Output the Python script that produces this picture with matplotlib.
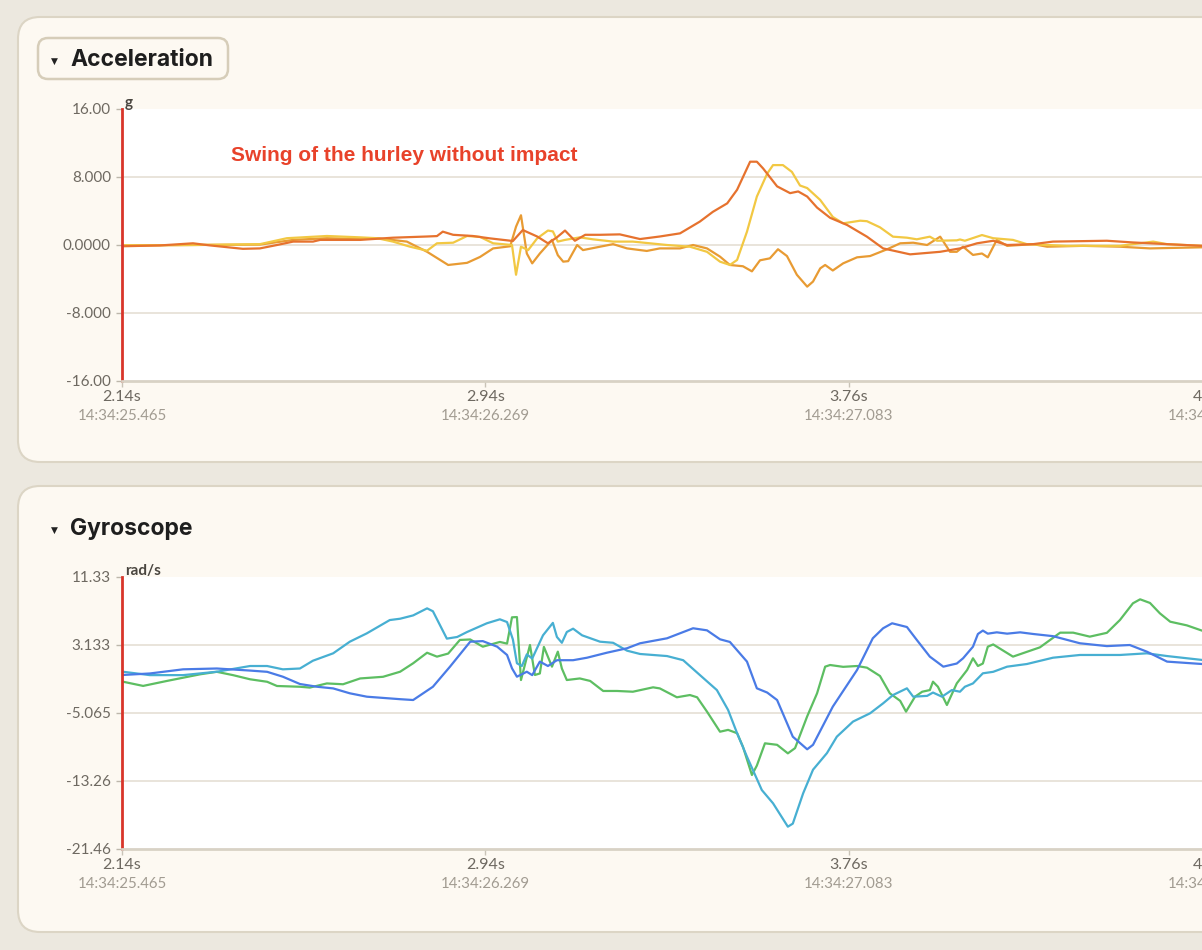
import matplotlib.pyplot as plt
from matplotlib.patches import FancyBboxPatch

# --- data ---
# acceleration [g]
acc_red_t = [2.140, 2.225, 2.298, 2.336, 2.409, 2.447, 2.485, 2.521, 2.565, 2.581, 2.670, 2.743,
             2.819, 2.841, 2.854, 2.877, 2.921, 2.959, 3.010, 3.032, 3.064, 3.088, 3.108, 3.126,
             3.148, 3.171, 3.204, 3.248, 3.293, 3.337, 3.382, 3.426, 3.455, 3.487, 3.509, 3.538,
             3.553, 3.567, 3.598, 3.627, 3.645, 3.665, 3.687, 3.716, 3.754, 3.798, 3.834, 3.894,
             3.961, 4.005, 4.043, 4.079, 4.110, 4.168, 4.212, 4.332, 4.390, 4.466, 4.544]
acc_red_v = [-0.15, -0.05, 0.2, -0.05, -0.45, -0.4, 0.0, 0.4, 0.4, 0.6, 0.6, 0.86,
             1.0, 1.05, 1.57, 1.2, 1.06, 0.78, 0.47, 1.76, 1.0, 0.2, 0.9, 1.7,
             0.5, 1.2, 1.2, 1.25, 0.7, 1.0, 1.37, 2.75, 3.9, 4.9, 6.5, 9.8,
             9.8, 9.0, 6.9, 6.1, 6.3, 5.7, 4.4, 3.2, 2.35, 0.98, -0.4, -1.1,
             -0.8, -0.4, 0.2, 0.5, 0.0, 0.1, 0.4, 0.5, 0.3, 0.1, -0.1]

acc_yel_t = [2.140, 2.298, 2.447, 2.507, 2.596, 2.670, 2.708, 2.743, 2.781, 2.819, 2.841, 2.877,
             2.908, 2.937, 2.966, 3.008, 3.017, 3.028, 3.044, 3.064, 3.088, 3.099, 3.110, 3.126,
             3.159, 3.188, 3.233, 3.277, 3.353, 3.404, 3.442, 3.471, 3.493, 3.509, 3.531, 3.553,
             3.576, 3.589, 3.611, 3.631, 3.649, 3.665, 3.694, 3.722, 3.745, 3.783, 3.798, 3.827,
             3.856, 3.887, 3.909, 3.938, 3.954, 3.998, 4.005, 4.016, 4.054, 4.079, 4.123, 4.154,
             4.243, 4.361, 4.435, 4.466, 4.544]
acc_yel_v = [-0.05, 0.0, 0.1, 0.8, 1.06, 0.9, 0.8, 0.4, -0.2, -0.67, 0.2, 0.27,
             1.06, 0.95, 0.2, 0.0, -3.5, -0.2, -0.6, 0.78, 1.7, 1.6, 0.4, 0.6,
             0.9, 0.67, 0.4, 0.4, 0.0, -0.2, -0.8, -1.96, -2.35, -1.76, 1.57, 5.7,
             8.4, 9.4, 9.4, 8.6, 7.0, 6.7, 5.3, 3.3, 2.55, 2.86, 2.8, 2.08,
             0.98, 0.86, 0.67, 0.98, 0.5, 0.55, 0.65, 0.5, 1.17, 0.8, 0.6, 0.1,
             -0.1, -0.1, 0.4, 0.1, -0.1]

acc_org_t = [2.140, 2.298, 2.447, 2.521, 2.596, 2.670, 2.708, 2.774, 2.819, 2.866, 2.908, 2.937,
             2.966, 3.004, 3.017, 3.028, 3.041, 3.053, 3.070, 3.097, 3.110, 3.122, 3.133, 3.153,
             3.166, 3.204, 3.233, 3.264, 3.308, 3.337, 3.382, 3.411, 3.442, 3.471, 3.493, 3.522,
             3.542, 3.560, 3.582, 3.600, 3.620, 3.642, 3.665, 3.678, 3.694, 3.705, 3.722, 3.745,
             3.776, 3.805, 3.843, 3.872, 3.901, 3.932, 3.961, 3.983, 3.998, 4.012, 4.034, 4.054,
             4.067, 4.087, 4.110, 4.168, 4.199, 4.279, 4.361, 4.428, 4.544]
acc_org_v = [-0.05, 0.0, 0.05, 0.6, 0.8, 0.7, 0.8, 0.4, -0.8, -2.35, -2.1, -1.4,
             -0.4, -0.15, 2.16, 3.5, -1.0, -2.16, -1.0, 0.6, -1.2, -1.96, -1.9, 0.0,
             -0.6, -0.2, 0.1, -0.4, -0.7, -0.4, -0.4, 0.0, -0.4, -1.37, -2.35, -2.5,
             -3.1, -1.8, -1.57, -0.5, -1.3, -3.5, -4.9, -4.3, -2.75, -2.35, -3.0, -2.16,
             -1.45, -1.3, -0.5, 0.2, 0.27, 0.0, 0.98, -0.8, -0.8, -0.2, -1.17, -1.0,
             -1.45, 0.6, -0.1, 0.1, -0.2, -0.1, -0.2, -0.4, -0.27]

# gyroscope [rad/s]
gyr_cyan_t = [2.142, 2.202, 2.276, 2.351, 2.425, 2.463, 2.498, 2.536, 2.565, 2.610, 2.647, 2.685,
              2.736, 2.759, 2.788, 2.819, 2.832, 2.863, 2.886, 2.908, 2.952, 2.981, 2.997, 3.010,
              3.019, 3.030, 3.041, 3.053, 3.077, 3.099, 3.108, 3.119, 3.130, 3.144, 3.164, 3.204,
              3.233, 3.264, 3.293, 3.353, 3.389, 3.426, 3.464, 3.489, 3.509, 3.531, 3.564, 3.589,
              3.622, 3.633, 3.656, 3.678, 3.709, 3.731, 3.767, 3.805, 3.834, 3.856, 3.887, 3.901,
              3.932, 3.945, 3.965, 3.987, 4.005, 4.016, 4.034, 4.056, 4.079, 4.110, 4.154, 4.212,
              4.272, 4.361, 4.421, 4.466, 4.544]
gyr_cyan_v = [-0.09, -0.5, -0.5, -0.09, 0.6, 0.6, 0.2, 0.3, 1.24, 2.13, 3.53, 4.54,
              6.14, 6.3, 6.7, 7.55, 7.2, 3.9, 4.1, 4.7, 5.75, 6.23, 5.9, 3.8,
              0.93, 0.6, 2.0, 1.5, 4.3, 5.8, 4.1, 3.4, 4.7, 5.1, 4.3, 3.53,
              3.4, 2.45, 2.05, 1.8, 1.3, -0.48, -2.3, -4.7, -7.5, -10.33, -14.35, -15.95,
              -18.77, -18.4, -14.75, -11.9, -9.9, -7.92, -6.1, -5.1, -3.9, -2.9, -2.09, -3.1,
              -3.0, -2.6, -3.1, -2.3, -2.5, -1.9, -1.5, -0.28, -0.1, 0.52, 0.84, 1.6,
              1.93, 1.93, 2.13, 1.8, 1.33]

gyr_blue_t = [2.142, 2.202, 2.276, 2.351, 2.425, 2.463, 2.498, 2.536, 2.574, 2.610, 2.647, 2.685,
              2.759, 2.788, 2.832, 2.870, 2.915, 2.943, 2.975, 2.997, 3.008, 3.019, 3.041, 3.053,
              3.070, 3.088, 3.108, 3.144, 3.175, 3.219, 3.264, 3.293, 3.353, 3.411, 3.442, 3.471,
              3.493, 3.531, 3.553, 3.576, 3.598, 3.633, 3.665, 3.678, 3.722, 3.776, 3.811, 3.834,
              3.854, 3.887, 3.909, 3.938, 3.968, 3.998, 4.012, 4.034, 4.045, 4.056, 4.067, 4.087,
              4.110, 4.139, 4.168, 4.212, 4.272, 4.332, 4.383, 4.421, 4.466, 4.544]
gyr_blue_v = [-0.48, -0.3, 0.2, 0.3, 0.05, -0.1, -0.69, -1.57, -1.9, -2.1, -2.69, -3.1,
              -3.4, -3.5, -1.9, 0.52, 3.53, 3.6, 2.93, 1.93, 0.32, -0.69, -0.09, -0.5,
              1.13, 0.6, 1.3, 1.3, 1.6, 2.2, 2.74, 3.34, 3.94, 5.15, 4.9, 3.82,
              3.5, 1.13, -2.09, -2.6, -3.5, -7.92, -9.44, -8.9, -4.3, 0.12, 3.94, 5.15,
              5.75, 5.3, 3.74, 1.73, 0.52, 0.9, 1.53, 2.93, 4.46, 4.87, 4.5, 4.66,
              4.5, 4.66, 4.46, 4.2, 3.34, 3.0, 3.13, 2.33, 1.13, 0.84]

gyr_green_t = [2.142, 2.187, 2.240, 2.314, 2.351, 2.387, 2.425, 2.463, 2.485, 2.536, 2.558, 2.596,
               2.632, 2.670, 2.721, 2.759, 2.788, 2.819, 2.841, 2.866, 2.892, 2.915, 2.943, 2.981,
               2.997, 3.008, 3.019, 3.028, 3.037, 3.048, 3.059, 3.070, 3.079, 3.097, 3.110, 3.119,
               3.130, 3.159, 3.182, 3.211, 3.242, 3.277, 3.322, 3.337, 3.375, 3.404, 3.420, 3.442,
               3.471, 3.489, 3.509, 3.522, 3.542, 3.553, 3.571, 3.598, 3.622, 3.638, 3.665, 3.687,
               3.705, 3.716, 3.745, 3.776, 3.798, 3.827, 3.849, 3.872, 3.885, 3.905, 3.921, 3.938,
               3.945, 3.956, 3.976, 3.998, 4.021, 4.034, 4.045, 4.056, 4.067, 4.079, 4.123, 4.183,
               4.228, 4.257, 4.294, 4.332, 4.361, 4.390, 4.406, 4.428, 4.450, 4.473, 4.510, 4.544]
gyr_green_v = [-1.29, -1.8, -1.2, -0.4, -0.1, -0.5, -1.0, -1.3, -1.81, -1.9, -2.0, -1.5,
               -1.6, -0.9, -0.7, -0.09, 0.93, 2.2, 1.73, 2.1, 3.74, 3.8, 2.93, 3.5,
               3.3, 6.47, 6.5, -1.09, 0.8, 3.13, -0.48, -0.3, 2.9, 0.52, 2.33, 0.3,
               -1.09, -0.9, -1.2, -2.41, -2.41, -2.5, -1.97, -2.1, -3.17, -2.9, -3.17, -4.9,
               -7.32, -7.1, -7.5, -9.13, -12.54, -11.4, -8.72, -8.9, -9.93, -9.3, -5.47, -2.69,
               0.52, 0.72, 0.5, 0.6, 0.4, -0.6, -2.69, -3.6, -4.9, -3.1, -2.5, -2.3,
               -1.29, -1.9, -4.1, -1.49, 0.12, 1.53, 0.6, 0.9, 2.93, 3.2, 1.73, 2.85,
               4.62, 4.62, 4.14, 4.6, 6.14, 8.16, 8.64, 8.2, 6.95, 5.94, 5.5, 4.86]

acc_ticks = [-16.0, -8.0, 0.0, 8.0, 16.0]
acc_tick_labels = ["-16.00", "-8.000", "0.0000", "8.000", "16.00"]
gyr_ticks = [-21.46, -13.2625, -5.065, 3.1325, 11.33]
gyr_tick_labels = ["-21.46", "-13.26", "-5.065", "3.133", "11.33"]

x_ticks = [2.14, 2.949, 3.758, 4.567]
x_tick_labels = ["2.14s", "2.94s", "3.76s", "4.57s"]
x_stamps = ["14:34:25.465", "14:34:26.269", "14:34:27.083", "14:34:27.897"]

# --- layout ---
W, H = 1202, 950
PX_PER_S = 449.3
BG = "#ECE8DF"
CARD = "#FDF9F2"
CARD_EDGE = "#DCD5C5"
TICK_C = "#6E6961"
STAMP_C = "#A29C92"

fig = plt.figure(figsize=(W / 100, H / 100), dpi=100, facecolor=BG)


def fpx(x, y):
    # pixel (from top-left) -> figure fraction
    return x / W, 1 - y / H


def card(x0, y0, x1, y1, r, lw=1.5, edge=CARD_EDGE):
    p = FancyBboxPatch((x0 / 100, (H - y1) / 100), (x1 - x0) / 100, (y1 - y0) / 100,
                       boxstyle=f"round,pad=0,rounding_size={r / 100}",
                       transform=fig.dpi_scale_trans, facecolor=CARD,
                       edgecolor=edge, linewidth=lw, zorder=-1)
    fig.add_artist(p)


card(18, 17, 1400, 462, 22)
card(18, 486, 1400, 932, 22)
card(38, 38, 228, 79, 10, lw=1.8, edge="#D6CDB9")


def header(y, title):
    fig.text(*fpx(51, y + 1), "▼", fontsize=6.5, color="#222222",
             ha="left", va="center", family="DejaVu Sans")
    fig.text(*fpx(70, y), title, fontsize=16.5, fontweight="bold", color="#1E1E1E",
             ha="left", va="center", family=["Inter", "DejaVu Sans"])


header(60, "Acceleration")
header(529, "Gyroscope")


def make_axes(top, ylim, ticks, labels, unit):
    ax = fig.add_axes([122 / W, 1 - (top + 272) / H, 1280 / W, 272 / H])
    ax.set_facecolor("white")
    ax.set_xlim(2.14, 2.14 + 1280 / PX_PER_S)
    ax.set_ylim(*ylim)
    for s in ("top", "right"):
        ax.spines[s].set_visible(False)
    ax.spines["left"].set_color("#D8352A")
    ax.spines["left"].set_linewidth(2)
    ax.spines["bottom"].set_color("#D8D2C5")
    ax.spines["bottom"].set_linewidth(2)
    for v in ticks[1:-1]:
        ax.axhline(v, color="#E7E2D8", lw=1.3, zorder=0)
    ax.set_yticks(ticks, labels)
    ax.set_xticks(x_ticks, x_tick_labels)
    ax.tick_params(axis="y", length=4, width=1, color="#BDB7AB", pad=4,
                   labelsize=11, labelcolor=TICK_C)
    ax.tick_params(axis="x", length=4, width=1, color="#C9C3B7", pad=2.5,
                   labelsize=11.5, labelcolor=TICK_C)
    for lab in ax.get_xticklabels() + ax.get_yticklabels():
        lab.set_family(["Lato", "DejaVu Sans"])
    for x, s in zip(x_ticks, x_stamps):
        ax.text(x, -0.13, s, transform=ax.get_xaxis_transform(), ha="center",
                va="center", fontsize=10.8, color=STAMP_C, family=["Lato", "DejaVu Sans"],
                clip_on=False)
    fig.text(*fpx(125, top - 6), unit, fontsize=11, fontweight="bold", color="#4A4640",
             ha="left", va="center", family=["Lato", "DejaVu Sans"])
    return ax


line_kw = dict(lw=1.6, solid_joinstyle="round", solid_capstyle="round")

ax1 = make_axes(109, (-16, 16), acc_ticks, acc_tick_labels, "g")
ax1.plot(acc_org_t, acc_org_v, color="#E89B33", **line_kw)
ax1.plot(acc_yel_t, acc_yel_v, color="#F2C843", **line_kw)
ax1.plot(acc_red_t, acc_red_v, color="#E6722E", **line_kw)
ax1.text(2.383, 10.5, "Swing of the hurley without impact", color="#E8422A",
         fontsize=15, fontweight="bold", ha="left", va="center",
         family=["Liberation Sans", "DejaVu Sans"])

ax2 = make_axes(577, (-21.46, 11.33), gyr_ticks, gyr_tick_labels, "rad/s")
ax2.plot(gyr_green_t, gyr_green_v, color="#5DBE62", **line_kw)
ax2.plot(gyr_cyan_t, gyr_cyan_v, color="#47AFD2", **line_kw)
ax2.plot(gyr_blue_t, gyr_blue_v, color="#4A7BE6", **line_kw)

fig.savefig("out.png", dpi=100, facecolor=BG)
